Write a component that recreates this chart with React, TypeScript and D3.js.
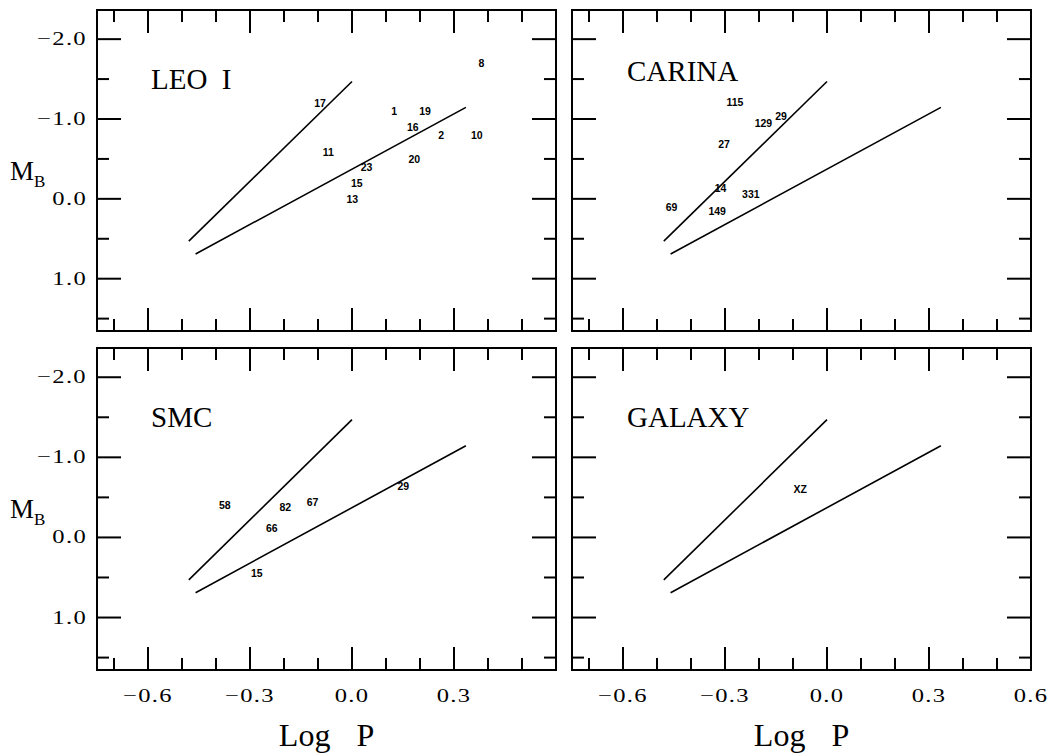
import React from "react";
import * as d3 from "d3";

// Star labels in each field: period (log P) and blue absolute magnitude
const leoStars = [
  { id: "8", logP: 0.381, mb: -1.7 },
  { id: "17", logP: -0.094, mb: -1.2 },
  { id: "1", logP: 0.124, mb: -1.1 },
  { id: "19", logP: 0.215, mb: -1.1 },
  { id: "16", logP: 0.179, mb: -0.9 },
  { id: "2", logP: 0.262, mb: -0.8 },
  { id: "10", logP: 0.367, mb: -0.8 },
  { id: "11", logP: -0.07, mb: -0.59 },
  { id: "20", logP: 0.183, mb: -0.5 },
  { id: "23", logP: 0.043, mb: -0.4 },
  { id: "15", logP: 0.014, mb: -0.2 },
  { id: "13", logP: 0.001, mb: 0.0 },
];

const carinaStars = [
  { id: "115", logP: -0.271, mb: -1.21 },
  { id: "129", logP: -0.187, mb: -0.95 },
  { id: "29", logP: -0.135, mb: -1.04 },
  { id: "27", logP: -0.303, mb: -0.69 },
  { id: "14", logP: -0.313, mb: -0.14 },
  { id: "331", logP: -0.224, mb: -0.06 },
  { id: "69", logP: -0.457, mb: 0.1 },
  { id: "149", logP: -0.323, mb: 0.15 },
];

const smcStars = [
  { id: "58", logP: -0.374, mb: -0.41 },
  { id: "82", logP: -0.196, mb: -0.38 },
  { id: "67", logP: -0.116, mb: -0.44 },
  { id: "66", logP: -0.236, mb: -0.12 },
  { id: "15", logP: -0.28, mb: 0.45 },
  { id: "29", logP: 0.151, mb: -0.64 },
];

const galaxyStars = [{ id: "XZ", logP: -0.079, mb: -0.61 }];

// Period-luminosity relations drawn in every panel
const steepLine = [
  { logP: -0.48, mb: 0.53 },
  { logP: 0.0, mb: -1.47 },
];
const shallowLine = [
  { logP: -0.46, mb: 0.69 },
  { logP: 0.335, mb: -1.145 },
];

const xMajor = [-0.6, -0.3, 0.0, 0.3, 0.6];
const xMajorLabels = ["\u22120.6", "\u22120.3", "0.0", "0.3", "0.6"];
const xMinor = [-0.7, -0.5, -0.4, -0.2, -0.1, 0.1, 0.2, 0.4, 0.5];
const yMajor = [-2, -1, 0, 1];
const yMajorLabels = ["\u22122.0", "\u22121.0", "0.0", "1.0"];
const yMinor = [-1.5, -0.5, 0.5, 1.5];

const xDomain: [number, number] = [-0.75, 0.6];
const yDomain: [number, number] = [-2.365, 1.655];

type Star = { id: string; logP: number; mb: number };

type PanelDef = {
  name: string;
  stars: Star[];
  x0: number;
  x1: number;
  y0: number;
  y1: number;
  titleX: number;
  titleY: number;
  showY: boolean;
  showX: boolean;
  xLabelCount: number;
};

const panels: PanelDef[] = [
  { name: "LEO\u00a0\u00a0I", stars: leoStars, x0: 97, x1: 556, y0: 10, y1: 331, titleX: 151, titleY: 89, showY: true, showX: false, xLabelCount: 4 },
  { name: "CARINA", stars: carinaStars, x0: 572, x1: 1031, y0: 10, y1: 331, titleX: 627, titleY: 81, showY: false, showX: false, xLabelCount: 5 },
  { name: "SMC", stars: smcStars, x0: 97, x1: 556, y0: 348, y1: 670, titleX: 151, titleY: 427, showY: true, showX: true, xLabelCount: 4 },
  { name: "GALAXY", stars: galaxyStars, x0: 572, x1: 1031, y0: 348, y1: 670, titleX: 627, titleY: 427, showY: false, showX: true, xLabelCount: 5 },
];

const serif = "'Liberation Serif', 'Times New Roman', serif";

// Tick numerals are set in a wide face: a serif scaled horizontally
const TICK_SIZE = 18.5;
const TICK_STRETCH = 1.33;

function TickLabel({
  x,
  y,
  anchor,
  baseline,
  children,
}: {
  x: number;
  y: number;
  anchor: "start" | "middle" | "end";
  baseline?: string;
  children: React.ReactNode;
}) {
  return (
    <g transform={`translate(${x},${y}) scale(${TICK_STRETCH},1)`}>
      <text
        x={0}
        y={0}
        textAnchor={anchor}
        dominantBaseline={baseline}
        fontFamily={serif}
        fontSize={TICK_SIZE}
        letterSpacing={1}
        fill="#000"
      >
        {children}
      </text>
    </g>
  );
}

function Panel({ p }: { p: PanelDef }) {
  const x = d3.scaleLinear().domain(xDomain).range([p.x0, p.x1]);
  const y = d3.scaleLinear().domain(yDomain).range([p.y0, p.y1]);
  const line = d3
    .line<{ logP: number; mb: number }>()
    .x((d) => x(d.logP))
    .y((d) => y(d.mb));

  const tickStroke = { stroke: "#000", strokeWidth: 2 };
  const ticks: React.ReactNode[] = [];
  const addX = (v: number, len: number, k: string) => {
    const px = x(v);
    ticks.push(<line key={"xb" + k} x1={px} x2={px} y1={p.y1} y2={p.y1 - len} {...tickStroke} />);
    ticks.push(<line key={"xt" + k} x1={px} x2={px} y1={p.y0} y2={p.y0 + len} {...tickStroke} />);
  };
  const addY = (v: number, len: number, k: string) => {
    const py = y(v);
    ticks.push(<line key={"yl" + k} x1={p.x0} x2={p.x0 + len} y1={py} y2={py} {...tickStroke} />);
    ticks.push(<line key={"yr" + k} x1={p.x1} x2={p.x1 - len} y1={py} y2={py} {...tickStroke} />);
  };
  xMajor.forEach((v, i) => addX(v, 23, "M" + i));
  xMinor.forEach((v, i) => addX(v, 12, "m" + i));
  yMajor.forEach((v, i) => addY(v, 24, "M" + i));
  yMinor.forEach((v, i) => addY(v, 12, "m" + i));

  return (
    <g>
      <rect x={p.x0} y={p.y0} width={p.x1 - p.x0} height={p.y1 - p.y0} fill="none" stroke="#000" strokeWidth={2} />
      {ticks}
      <path d={line(steepLine) || ""} fill="none" stroke="#000" strokeWidth={1.6} />
      <path d={line(shallowLine) || ""} fill="none" stroke="#000" strokeWidth={1.6} />
      <text x={p.titleX} y={p.titleY} fontFamily={serif} fontSize={29} fill="#000">
        {p.name}
      </text>
      {p.stars.map((s, i) => (
        <text
          key={i}
          x={x(s.logP)}
          y={y(s.mb)}
          textAnchor="middle"
          dominantBaseline="central"
          fontFamily="'Liberation Sans', Arial, sans-serif"
          fontWeight="bold"
          fontSize={10.5}
          fill="#000"
        >
          {s.id}
        </text>
      ))}
      {p.showY &&
        yMajor.map((v, i) => (
          <TickLabel key={"yl" + i} x={87} y={y(v) + 6} anchor="end">
            {yMajorLabels[i]}
          </TickLabel>
        ))}
      {p.showY && (
        <text x={10} y={(p.y0 + p.y1) / 2 + 9} fontFamily={serif} fontSize={27} fill="#000">
          M
          <tspan dy={7} fontSize={17}>
            B
          </tspan>
        </text>
      )}
      {p.showX &&
        xMajor.slice(0, p.xLabelCount).map((v, i) => (
          <TickLabel key={"xl" + i} x={x(v)} y={p.y1 + 32} anchor="middle">
            {xMajorLabels[i]}
          </TickLabel>
        ))}
      {p.showX && (
        <text
          x={(p.x0 + p.x1) / 2}
          y={746}
          textAnchor="middle"
          fontFamily={serif}
          fontSize={32}
          wordSpacing={18}
          fill="#000"
        >
          Log P
        </text>
      )}
    </g>
  );
}

export default function App() {
  return (
    <svg
      width={1064}
      height={753}
      viewBox="0 0 1064 753"
      style={{ position: "absolute", left: 0, top: 0, background: "#fff" }}
    >
      <rect x={0} y={0} width={1064} height={753} fill="#fff" />
      {panels.map((p, i) => (
        <Panel key={i} p={p} />
      ))}
    </svg>
  );
}
